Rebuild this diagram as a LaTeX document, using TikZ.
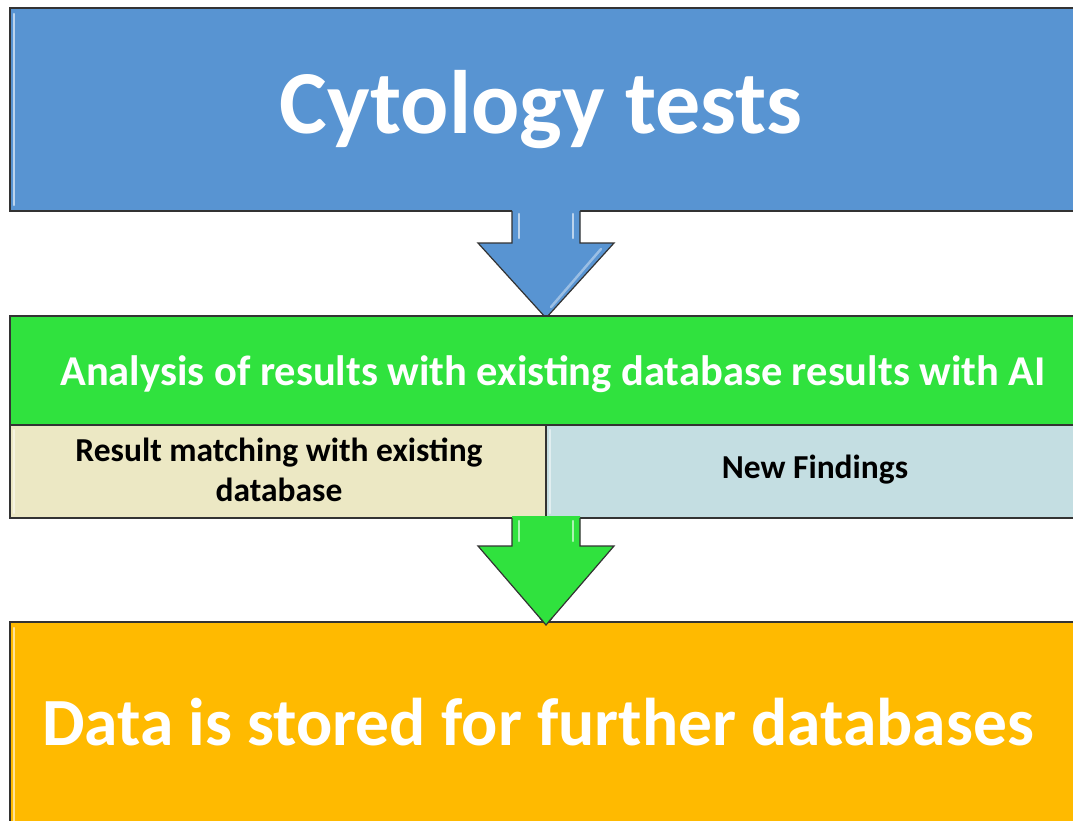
\documentclass[tikz,border=0pt]{standalone}
\usepackage{fontspec}
\setmainfont{Carlito}
\begin{document}
\begin{tikzpicture}[x=1pt,y=-1pt,
  boxline/.style={draw=black!80,line width=1.2pt},
  bigtext/.style={text=white,font=\bfseries\fontsize{90}{100}\selectfont},
  midtext/.style={text=white,font=\bfseries\fontsize{42.5}{48}\selectfont},
  subtext/.style={text=black,font=\bfseries\fontsize{33.5}{40}\selectfont,align=center},
  hilite/.style={line width=2.5pt,line cap=round}]
\definecolor{cblue}{RGB}{88,148,210}
\definecolor{cgreen}{RGB}{48,226,62}
\definecolor{ctan}{RGB}{236,232,196}
\definecolor{clblue}{RGB}{196,222,226}
\definecolor{corange}{RGB}{255,186,0}
\useasboundingbox (0,0) rectangle (1073,821);
\fill[white] (0,0) rectangle (1073,821);
% top box
\filldraw[fill=cblue,boxline] (10,8) rectangle (1080,211);
\draw[hilite,cblue!40!white] (14,14) -- (14,205);
\node[bigtext] (cyto) at (541,110) {Cytology tests};
% blue arrow
\fill[cblue] (512,208) -- (512,243) -- (478,243) -- (546,318) -- (614,243) -- (580,243) -- (580,208) -- cycle;
\draw[boxline] (512,211) -- (512,243) -- (478,243) -- (546,318) -- (614,243) -- (580,243) -- (580,211);
\draw[hilite,cblue!40!white] (519,214) -- (519,238);
\draw[hilite,cblue!40!white] (573,214) -- (573,238);
\draw[hilite,cblue!60!white] (601,249) -- (551,307);
% green box
\filldraw[fill=cgreen,boxline] (10,316) rectangle (1080,425);
\node[midtext] (anal) at (553,374) {Analysis of results with existing database results with AI};
% sub boxes
\filldraw[fill=ctan,boxline] (10,425) rectangle (546,518);
\filldraw[fill=clblue,boxline] (546,425) rectangle (1080,518);
\draw[hilite,ctan!50!white] (14,430) -- (14,513);
\draw[hilite,clblue!50!white] (550,430) -- (550,513);
\node[subtext] (match) at (279,470) {Result matching with existing\\database};
\node[subtext] (newf) at (815,470) {New Findings};
% green arrow
\fill[cgreen] (512,516) -- (512,546) -- (478,546) -- (546,625) -- (614,546) -- (580,546) -- (580,516) -- cycle;
\draw[boxline] (512,518) -- (512,546) -- (478,546) -- (546,625) -- (614,546) -- (580,546) -- (580,518);
\draw[hilite,cgreen!40!white] (519,521) -- (519,541);
\draw[hilite,cgreen!40!white] (573,521) -- (573,541);
% orange box
\filldraw[fill=corange,boxline] (10,622) rectangle (1080,830);
\draw[hilite,corange!40!white] (14,628) -- (14,821);
\fill[cgreen] (546,625) -- (543,621) -- (549,621) -- cycle;
\draw[boxline] (540,618) -- (546,625) -- (552,618);
\node[bigtext,font=\bfseries\fontsize{67.5}{75}\selectfont] (data) at (538,722) {Data is stored for further databases};
\end{tikzpicture}
\end{document}
